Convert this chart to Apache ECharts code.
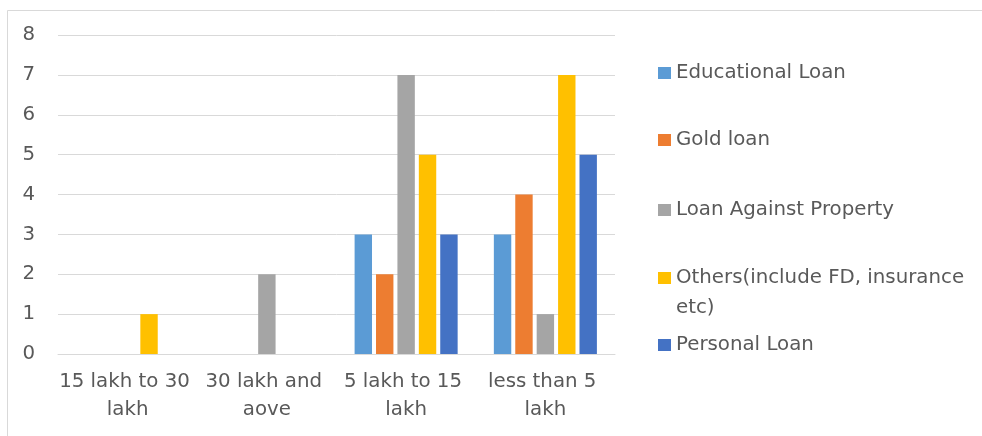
<!DOCTYPE html>
<html>
<head>
<meta charset="utf-8">
<script src="https://cdn.jsdelivr.net/npm/echarts@6/dist/echarts.min.js"></script>
<style>html,body{margin:0;padding:0;background:#fff}#c{width:982px;height:436px}</style>
</head>
<body>
<div id="c"></div>
<script>
var categories = ['15 lakh to 30 lakh', '30 lakh and aove', '5 lakh to 15 lakh', 'less than 5 lakh'];
var seriesNames = ['Educational Loan', 'Gold loan', 'Loan Against Property', 'Others(include FD, insurance etc)', 'Personal Loan'];
var educationalLoan = [0, 0, 3, 3];
var goldLoan = [0, 0, 2, 4];
var loanAgainstProperty = [0, 2, 7, 1];
var others = [1, 0, 5, 7];
var personalLoan = [0, 0, 3, 5];
var yTicks = [0, 1, 2, 3, 4, 5, 6, 7, 8];

var colors = ['#5B9BD5', '#ED7D31', '#A5A5A5', '#FFC000', '#4472C4'];
var values = [educationalLoan, goldLoan, loanAgainstProperty, others, personalLoan];
var FONT = 'DejaVu Sans';
var TXT = '#595959';
var FS = 19.8;

var legendCenters = [73, 140, 210, 278, 345];
var legends = seriesNames.map(function (n, i) {
  var multi = (i === 3);
  return {
    orient: 'vertical',
    left: 658,
    top: multi ? legendCenters[i] - 45 : legendCenters[i] - 14,
    padding: 0,
    itemWidth: 13,
    itemHeight: 12,
    icon: 'rect',
    selectedMode: false,
    data: [n],
    formatter: multi ? function () { return '\u00a0\nOthers(include FD, insurance\netc)'; } : undefined,
    textStyle: { fontFamily: FONT, fontSize: FS, color: TXT, lineHeight: multi ? 30 : 28 }
  };
});

var chart = echarts.init(document.getElementById('c'), null, { renderer: 'canvas' });
chart.setOption({
  animation: false,
  backgroundColor: '#fff',
  color: colors,
  graphic: [{
    type: 'rect', silent: true, z: -1,
    shape: { x: 7.5, y: 10.5, width: 1100, height: 600 },
    style: { fill: 'none', stroke: '#d9d9d9', lineWidth: 1 }
  }],
  grid: { left: 58, right: 367, top: 35, bottom: 82, containLabel: false },
  legend: legends,
  xAxis: {
    type: 'category',
    data: categories,
    axisLine: { show: true, lineStyle: { color: '#d9d9d9', width: 1 } },
    axisTick: { show: false },
    axisLabel: {
      interval: 0, margin: 14, fontFamily: FONT, fontSize: FS, color: TXT,
      lineHeight: 28, width: 138, overflow: 'break', align: 'center'
    }
  },
  yAxis: {
    type: 'value', min: 0, max: 8, interval: 1,
    axisLine: { show: false }, axisTick: { show: false },
    splitLine: { lineStyle: { color: '#d9d9d9', width: 1 } },
    axisLabel: {
      margin: 23, fontFamily: FONT, fontSize: FS, color: TXT,
      formatter: function (v) { return yTicks.indexOf(v) >= 0 ? String(v) : ''; }
    }
  },
  series: seriesNames.map(function (n, i) {
    return {
      type: 'bar', name: n, data: values[i],
      barGap: '23%', barCategoryGap: '26%',
      itemStyle: { color: colors[i] }
    };
  })
});
</script>
</body>
</html>
